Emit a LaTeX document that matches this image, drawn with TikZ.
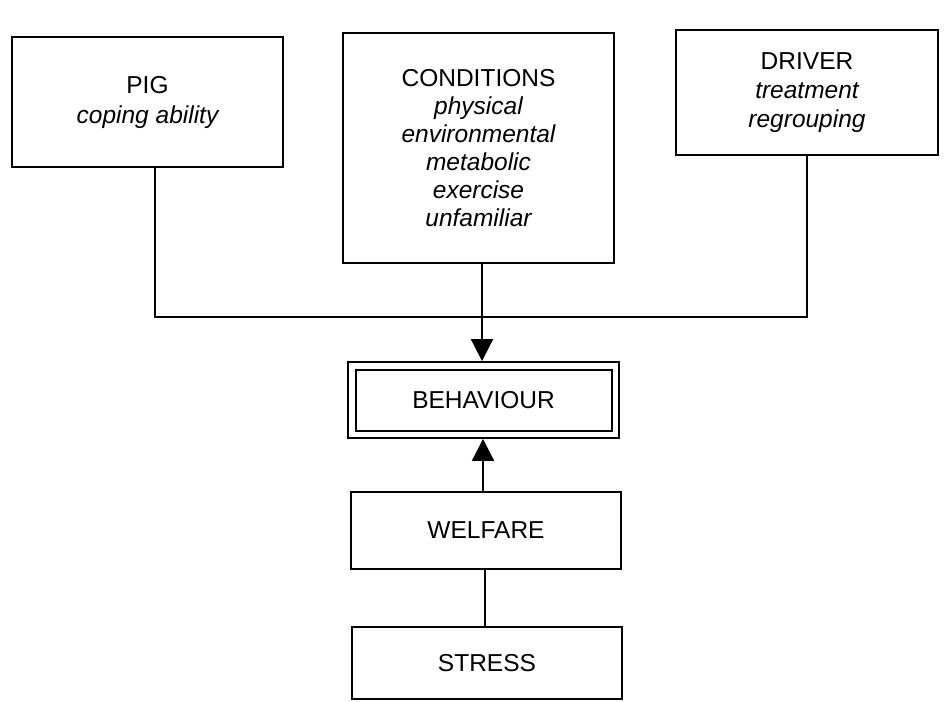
\documentclass[tikz,border=0pt]{standalone}
\usepackage{fontspec}
\setmainfont{Liberation Sans}
\usetikzlibrary{arrows.meta}
\begin{document}
\begin{tikzpicture}[x=1pt,y=-1pt,
  box/.style={draw, line width=1.8pt, inner sep=0pt, align=center,
    font=\fontsize{24.5}{28}\selectfont},
  conn/.style={line width=1.8pt},
  arr/.style={line width=1.8pt, -{Triangle[width=22pt,length=22pt]}}]
\useasboundingbox (0,0) rectangle (947,701);
\node[box, minimum width=271pt, minimum height=130pt, font=\fontsize{24.5}{30}\selectfont] (pig) at (147.5,102)
  {PIG\\{\itshape coping ability}};
\node[box, minimum width=271pt, minimum height=230pt] (cond) at (478.5,148)
  {CONDITIONS\\{\itshape physical}\\{\itshape environmental}\\{\itshape metabolic}\\{\itshape exercise}\\{\itshape unfamiliar}};
\node[box, minimum width=262pt, minimum height=125pt, font=\fontsize{24.5}{29}\selectfont] (drv) at (807,92.5)
  {DRIVER\\{\itshape treatment}\\{\itshape regrouping}};
\node[box, minimum width=271pt, minimum height=76pt] (beh) at (483.5,400)
  {BEHAVIOUR};
\draw[conn] ([shift={(9,9)}]beh.north west) rectangle ([shift={(-8,-8)}]beh.south east);
\node[box, minimum width=270pt, minimum height=77pt] (wel) at (486,530.5)
  {WELFARE};
\node[box, minimum width=270pt, minimum height=72pt] (str) at (487,663)
  {STRESS};
\coordinate (jc) at (482,317);
\draw[conn] ([xshift=7.5pt]pig.south) |- (jc);
\draw[conn] (drv.south) |- (jc);
\draw[arr] ([xshift=3.5pt]cond.south) -- ([xshift=-1.5pt]beh.north);
\draw[arr] ([xshift=-3pt]wel.north) -- ([xshift=-0.5pt]beh.south);
\draw[conn] ([xshift=-1pt]wel.south) -- ([xshift=-2pt]str.north);
\end{tikzpicture}
\end{document}
